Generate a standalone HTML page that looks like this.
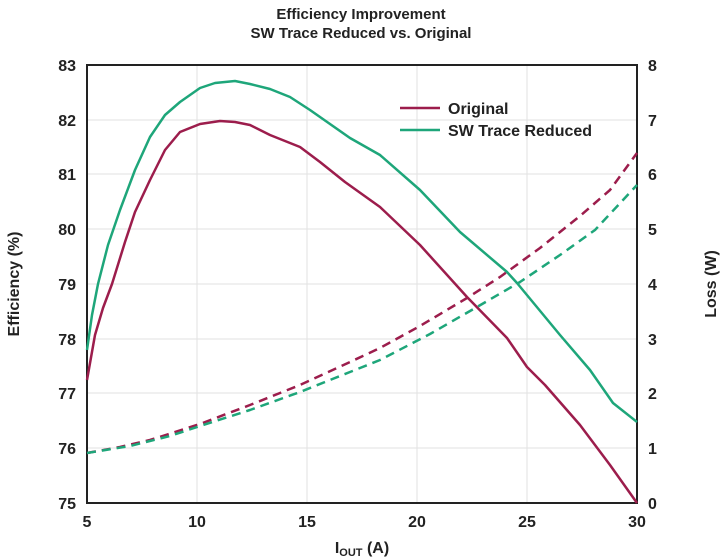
<!DOCTYPE html>
<html><head><style>
html,body{margin:0;padding:0;background:#fff;}
svg{display:block;font-family:"Liberation Sans",sans-serif;font-weight:bold;}
</style></head><body>
<svg width="723" height="559" viewBox="0 0 723 559">
<text x="361" y="19" text-anchor="middle" font-size="15" fill="#222">Efficiency Improvement</text>
<text x="361" y="38" text-anchor="middle" font-size="15" fill="#222">SW Trace Reduced vs. Original</text>
<g stroke="#e2e2e2" stroke-width="1">
<line x1="197" y1="65" x2="197" y2="503"/><line x1="307" y1="65" x2="307" y2="503"/>
<line x1="417" y1="65" x2="417" y2="503"/><line x1="527" y1="65" x2="527" y2="503"/>
<line x1="87" y1="120" x2="637" y2="120"/><line x1="87" y1="174" x2="637" y2="174"/>
<line x1="87" y1="229" x2="637" y2="229"/><line x1="87" y1="284" x2="637" y2="284"/>
<line x1="87" y1="339" x2="637" y2="339"/><line x1="87" y1="393" x2="637" y2="393"/>
<line x1="87" y1="448" x2="637" y2="448"/>
</g>
<rect x="87" y="65" width="550" height="438" fill="none" stroke="#222" stroke-width="2"/>
<g font-size="16" fill="#222" text-anchor="end">
<text x="76" y="71">83</text><text x="76" y="126">82</text><text x="76" y="180">81</text>
<text x="76" y="235">80</text><text x="76" y="290">79</text><text x="76" y="345">78</text>
<text x="76" y="399">77</text><text x="76" y="454">76</text><text x="76" y="509">75</text>
</g>
<g font-size="16" fill="#222" text-anchor="start">
<text x="648" y="71">8</text><text x="648" y="126">7</text><text x="648" y="180">6</text>
<text x="648" y="235">5</text><text x="648" y="290">4</text><text x="648" y="345">3</text>
<text x="648" y="399">2</text><text x="648" y="454">1</text><text x="648" y="509">0</text>
</g>
<g font-size="16" fill="#222" text-anchor="middle">
<text x="87" y="527">5</text><text x="197" y="527">10</text><text x="307" y="527">15</text>
<text x="417" y="527">20</text><text x="527" y="527">25</text><text x="637" y="527">30</text>
</g>
<text x="362" y="553" text-anchor="middle" font-size="16" fill="#222">I<tspan font-size="11" dy="3">OUT</tspan><tspan dy="-3"> (A)</tspan></text>
<text transform="translate(19,284) rotate(-90)" text-anchor="middle" font-size="16" fill="#222">Efficiency (%)</text>
<text transform="translate(716,284) rotate(-90)" text-anchor="middle" font-size="16" fill="#222">Loss (W)</text>
<g fill="none" stroke-width="2.5" stroke-linejoin="round">
<polyline stroke="#9c1d4c" points="87,380 95,335 103,308 112,284 125,242 135,212 150,180 165,150 180,132 200,124 220,121 235,122 250,125 270,135 300,147 320,162 345,182 380,207 420,245 467,297 507,338 527,367 545,385 580,425 610,465 637,503"/>
<polyline stroke="#1ea67a" points="87,350 92,315 98,284 108,245 120,210 135,170 150,137 165,115 180,102 200,88 215,83 235,81 250,84 270,89 290,97 310,110 330,124 350,138 380,155 420,190 460,232 507,272 517,283 560,335 590,370 613,403 637,422"/>
<polyline stroke="#9c1d4c" stroke-dasharray="9,6" points="87,453 120,447 150,440 200,424 250,405 300,385 350,362 380,348 420,326 467,298 500,277 540,248 580,216 610,190 637,153"/>
<polyline stroke="#1ea67a" stroke-dasharray="9,6" points="87,453 130,446 170,436 200,426 250,410 300,392 350,372 380,360 430,334 477,307 520,282 560,255 595,230 637,185"/>
<line x1="400" y1="108" x2="440" y2="108" stroke="#9c1d4c"/>
<line x1="400" y1="130" x2="440" y2="130" stroke="#1ea67a"/>
</g>
<text x="448" y="114" font-size="16" fill="#222">Original</text>
<text x="448" y="136" font-size="16" fill="#222">SW Trace Reduced</text>
</svg>
</body></html>
